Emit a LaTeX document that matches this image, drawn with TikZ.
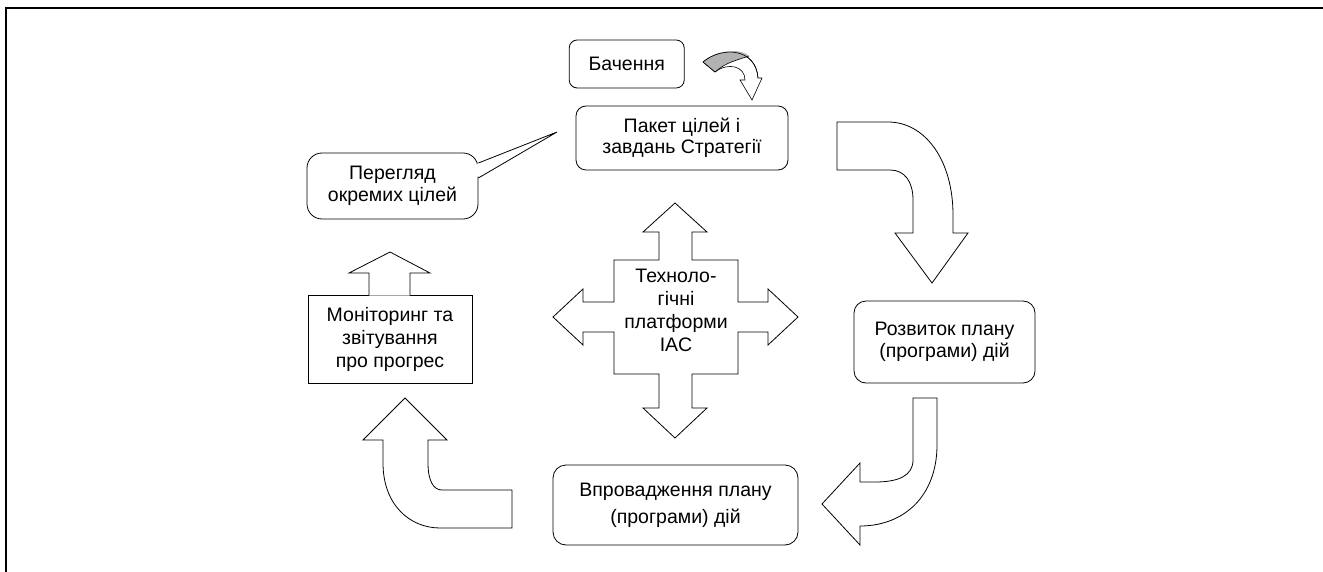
\documentclass[tikz,border=0pt]{standalone}
\usepackage{fontspec}
\setmainfont{Liberation Sans}
\begin{document}
\begin{tikzpicture}[x=1pt,y=-1pt,
  txt/.style={font=\fontsize{19.5}{22}\selectfont, align=center, inner sep=0pt},
  rbox/.style={txt, draw, line width=0.8pt, fill=white},
  blockarrow/.style={draw, line width=0.8pt, fill=white, line join=miter}
]
\useasboundingbox (0,0) rectangle (1323,572);
\fill[white] (0,0) rectangle (1323,572);
% frame
\draw[line width=2pt] (6.3,572) -- (6.3,8.3) -- (1323,8.3);

% boxes
\node[rbox, rounded corners=8pt, minimum width=115pt, minimum height=48pt] (vision) at (626.7,64) {Бачення};
\node[rbox, rounded corners=10pt, minimum width=212pt, minimum height=64pt, font=\fontsize{19.5}{21}\selectfont] (goals) at (682,138) {Пакет цілей і\\завдань Стратегії};
\node[rbox, rounded corners=15pt, minimum width=171pt, minimum height=66pt, font=\fontsize{19.5}{22}\selectfont] (review) at (392.5,186) {Перегляд\\окремих цілей};
\node[rbox, minimum width=164pt, minimum height=88pt, font=\fontsize{19.5}{23}\selectfont] (monitor) at (390,339) {Моніторинг та\\звітування\\про прогрес};
\node[rbox, rounded corners=12pt, minimum width=181pt, minimum height=82pt, font=\fontsize{19.5}{22}\selectfont] (develop) at (944.5,342) {Розвиток плану\\(програми) дій};
\node[rbox, rounded corners=13pt, minimum width=245pt, minimum height=80pt, font=\fontsize{19.5}{27}\selectfont] (implement) at (675.5,505) {Впровадження плану\\(програми) дій};

% callout pointer
\fill[white] (477,164) -- (557,132) -- (477,177) -- cycle;
\draw[line width=0.8pt] (review.east |- 0,163) -- (557,132) -- (review.east |- 0,178);

% up arrow on top of monitoring box
\draw[blockarrow] (369,295.5) -- (369,273) -- (349,273) -- (390,252) -- (430,273) -- (410,273) -- (410,295.5);

% four-way arrow
\draw[blockarrow] (675,203) -- (707,232) -- (692,232) -- (692,260) -- (738,260) -- (738,302) -- (768,302) -- (768,289) -- (798,317) -- (768,345) -- (768,332) -- (738,332) -- (738,374) -- (692,374) -- (692,408) -- (707,408) -- (675,438) -- (643,408) -- (659,408) -- (659,374) -- (614,374) -- (614,332) -- (583,332) -- (583,345) -- (553,317) -- (583,289) -- (583,302) -- (614,302) -- (614,260) -- (659,260) -- (659,232) -- (643,232) -- cycle;
\node[txt, font=\fontsize{19.5}{23}\selectfont] (tech) at (676,310) {Техноло-\\гічні\\платформи\\IAC};

% top-right curved arrow (goals -> develop)
\draw[blockarrow] (837,122) -- (888,122) .. controls (925,122) and (953,160) .. (953,215) -- (953,233) -- (968,233) -- (932,283) -- (895,233) -- (913,233) -- (913,200) .. controls (913,182) and (905,170) .. (890,170) -- (837,170) -- cycle;

% bottom-right curved arrow (develop -> implement)
\draw[blockarrow] (913,398) -- (913,460) .. controls (913,476) and (898,482) .. (875,482) -- (860,482) -- (860,463) -- (822,504) -- (860,545) -- (860,526) .. controls (905,526) and (937,495) .. (937,445) -- (937,398) -- cycle;

% bottom-left curved arrow (implement -> monitor)
\draw[blockarrow] (512,490) -- (442,490) .. controls (433,490) and (428,480) .. (428,463) -- (428,440) -- (447,440) -- (405,398) -- (363,440) -- (383,440) -- (383,463) .. controls (383,505) and (410,528) .. (440,528) -- (512,528) -- cycle;

% vision curved arrow
\draw[blockarrow, line width=0.6pt] (703,62) .. controls (722,46) and (756,48) .. (758,78) -- (762,78) -- (752,100) -- (740,80) -- (745,80) .. controls (745,66) and (728,62) .. (715,72) -- cycle;
\fill[gray!60] (703.5,62) .. controls (720,48) and (742,49) .. (749,56) .. controls (738,60) and (726,62) .. (715,71.5) -- cycle;
\draw[line width=0.6pt] (703,62) .. controls (722,46) and (756,48) .. (758,78);
\draw[line width=0.6pt] (749,56) .. controls (738,60) and (726,62) .. (715,72) -- (703,62);
\end{tikzpicture}
\end{document}
